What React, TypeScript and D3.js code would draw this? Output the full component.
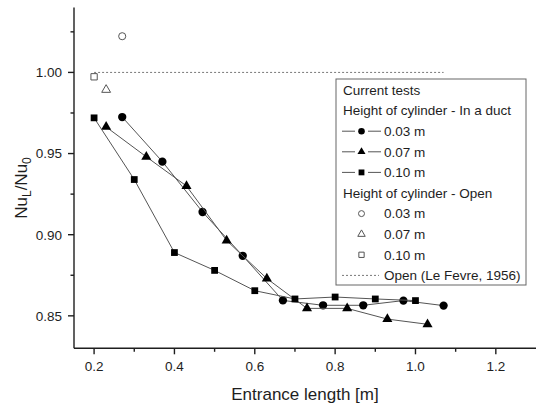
import React from "react";
import * as d3 from "d3";

// Entrance length [m] and Nu_L/Nu_0
const ductX003 = [0.27, 0.37, 0.47, 0.57, 0.67, 0.77, 0.87, 0.97, 1.07];
const ductY003 = [0.9725, 0.945, 0.914, 0.887, 0.8595, 0.8565, 0.8565, 0.8594, 0.8563];
const ductX007 = [0.23, 0.33, 0.43, 0.53, 0.63, 0.73, 0.83, 0.93, 1.03];
const ductY007 = [0.9664, 0.948, 0.93, 0.8964, 0.873, 0.8546, 0.8546, 0.848, 0.8448];
const ductX010 = [0.2, 0.3, 0.4, 0.5, 0.6, 0.7, 0.8, 0.9, 1.0];
const ductY010 = [0.972, 0.934, 0.889, 0.878, 0.8655, 0.8604, 0.8616, 0.8604, 0.8594];

const openX = [0.27, 0.23, 0.2];
const openY = [1.0223, 0.9893, 0.9973];
const openShapes = ["circle", "triangle", "square"];

const leFevreX = [0.2, 1.07];
const leFevreY = [1.0, 1.0];

const xTicks = [0.2, 0.4, 0.6, 0.8, 1.0, 1.2];
const xMinorTicks = [0.3, 0.5, 0.7, 0.9, 1.1];
const yTicks = [0.85, 0.9, 0.95, 1.0];
const yMinorTicks = [0.875, 0.925, 0.975, 1.025];

const legendHeaders = ["Current tests", "Height of cylinder - In a duct", "Height of cylinder - Open"];
const heightLabels = ["0.03 m", "0.07 m", "0.10 m"];
const leFevreLabel = "Open (Le Fevre, 1956)";

const FONT = "Arial, 'Liberation Sans', Helvetica, sans-serif";
const INK = "#1e1e1e";
const LINE = "#555";

const symbolOf = (shape: string) =>
  shape === "circle" ? d3.symbolCircle : shape === "triangle" ? d3.symbolTriangle : d3.symbolSquare;

const markerPath = (shape: string, size: number) => d3.symbol(symbolOf(shape), size)() || "";

export default function App() {
  const x = d3.scaleLinear().domain([0.15, 1.3]).range([74, 536]);
  const y = d3.scaleLinear().domain([0.83, 1.04]).range([348.3, 7.5]);

  const ductSeries = [
    { xs: ductX003, ys: ductY003, shape: "circle", size: 54 },
    { xs: ductX007, ys: ductY007, shape: "triangle", size: 44 },
    { xs: ductX010, ys: ductY010, shape: "square", size: 46 },
  ];

  const line = d3
    .line<[number, number]>()
    .x((d) => x(d[0]))
    .y((d) => y(d[1]));

  const fmtY = d3.format(".2f");
  const fmtX = d3.format(".1f");

  // legend geometry
  const lgX = 336;
  const lgY = 79;
  const lgW = 190;
  const lgH = 206;
  const row0 = 90;
  const rowGap = 20.6;
  const rowY = (i: number) => row0 + i * rowGap;
  const symX = 361.5;
  const textX = 384;

  return (
    <svg
      width={536}
      height={406}
      style={{ position: "absolute", left: 0, top: 0, background: "#fff" }}
      fontFamily={FONT}
    >
      {/* Le Fevre reference line */}
      <path
        d={line(leFevreX.map((v, i) => [v, leFevreY[i]]) as [number, number][]) || ""}
        stroke="#777"
        strokeWidth={1}
        strokeDasharray="2,2"
        fill="none"
      />

      {/* duct series */}
      {ductSeries.map((s, k) => {
        const pts = s.xs.map((v, i) => [v, s.ys[i]] as [number, number]);
        return (
          <g key={k}>
            <path d={line(pts) || ""} stroke={LINE} strokeWidth={1} fill="none" />
            {pts.map((p, i) => (
              <path
                key={i}
                transform={`translate(${x(p[0])},${y(p[1])})`}
                d={markerPath(s.shape, s.size)}
                fill="#000"
              />
            ))}
          </g>
        );
      })}

      {/* open cylinder points */}
      {openX.map((v, i) => (
        <path
          key={i}
          transform={`translate(${x(v)},${y(openY[i])})`}
          d={markerPath(openShapes[i], openShapes[i] === "triangle" ? 34 : 40)}
          fill="#fff"
          stroke="#555"
          strokeWidth={1}
        />
      ))}

      {/* axes */}
      <g stroke={INK} strokeWidth={1.4} fill="none">
        <line x1={74} x2={74} y1={y(1.04)} y2={y(0.83)} />
        <line x1={74} x2={536} y1={y(0.83)} y2={y(0.83)} />
        {xTicks.map((t) => (
          <line key={t} x1={x(t)} x2={x(t)} y1={y(0.83)} y2={y(0.83) + 6} />
        ))}
        {xMinorTicks.map((t) => (
          <line key={t} x1={x(t)} x2={x(t)} y1={y(0.83)} y2={y(0.83) + 3.5} />
        ))}
        {yTicks.map((t) => (
          <line key={t} x1={74} x2={68} y1={y(t)} y2={y(t)} />
        ))}
        {yMinorTicks.map((t) => (
          <line key={t} x1={74} x2={70.5} y1={y(t)} y2={y(t)} />
        ))}
      </g>
      <g fill={INK} fontSize={13.5}>
        {xTicks.map((t) => (
          <text key={t} x={x(t)} y={371} textAnchor="middle">
            {fmtX(t)}
          </text>
        ))}
        {yTicks.map((t) => (
          <text key={t} x={62} y={y(t) + 4.8} textAnchor="end">
            {fmtY(t)}
          </text>
        ))}
      </g>

      {/* axis titles */}
      <text x={305} y={400} textAnchor="middle" fontSize={17} fill={INK}>
        Entrance length [m]
      </text>
      <text transform="translate(26.5,188) rotate(-90)" textAnchor="middle" fontSize={17} fill={INK}>
        Nu
        <tspan fontSize={12} dy={4}>L</tspan>
        <tspan dy={-4}>/Nu</tspan>
        <tspan fontSize={12} dy={4}>0</tspan>
      </text>

      {/* legend */}
      <g>
        <rect x={lgX} y={lgY} width={lgW} height={lgH} fill="#fff" stroke="#666" strokeWidth={1} />
        <g fontSize={13.5} fill={INK}>
          <text x={343} y={rowY(0) + 4.8}>{legendHeaders[0]}</text>
          <text x={343} y={rowY(1) + 4.8}>{legendHeaders[1]}</text>
          <text x={343} y={rowY(5) + 4.8}>{legendHeaders[2]}</text>
          {heightLabels.map((l, i) => (
            <text key={"d" + i} x={textX} y={rowY(2 + i) + 4.8}>
              {l}
            </text>
          ))}
          {heightLabels.map((l, i) => (
            <text key={"o" + i} x={textX} y={rowY(6 + i) + 4.8}>
              {l}
            </text>
          ))}
          <text x={textX} y={rowY(9) + 4.8}>{leFevreLabel}</text>
        </g>
        {ductSeries.map((s, i) => {
          const cy = rowY(2 + i);
          return (
            <g key={i}>
              <line x1={342} x2={355} y1={cy} y2={cy} stroke={LINE} strokeWidth={1} />
              <line x1={368} x2={381} y1={cy} y2={cy} stroke={LINE} strokeWidth={1} />
              <path
                transform={`translate(${symX},${cy})`}
                d={markerPath(s.shape, s.shape === "triangle" ? 28 : 34)}
                fill="#000"
              />
            </g>
          );
        })}
        {openShapes.map((sh, i) => (
          <path
            key={i}
            transform={`translate(${symX},${rowY(6 + i)})`}
            d={markerPath(sh, sh === "triangle" ? 24 : 28)}
            fill="#fff"
            stroke="#555"
            strokeWidth={1}
          />
        ))}
        <line
          x1={342}
          x2={379}
          y1={rowY(9)}
          y2={rowY(9)}
          stroke="#777"
          strokeWidth={1}
          strokeDasharray="2,2"
        />
      </g>
    </svg>
  );
}
